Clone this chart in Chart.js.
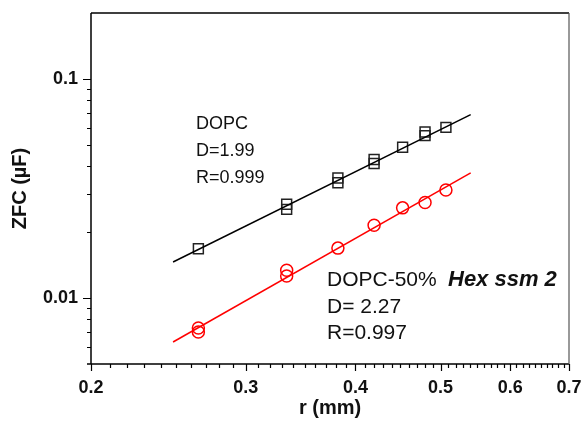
<!DOCTYPE html>
<html>
<head>
<meta charset="utf-8">
<script src="https://cdn.jsdelivr.net/npm/chart.js@4"></script>
<style>
  body { margin: 0; background: #fff; }
  canvas { display: block; }
</style>
</head>
<body>
<canvas id="zfc-chart" width="583" height="425"></canvas>
<script>
// Measured points, ZFC vs electrode radius
const dopcR = [0.265, 0.334, 0.334, 0.382, 0.382, 0.420, 0.420, 0.4526, 0.480, 0.480, 0.507];
const dopcZfc = [0.0168, 0.0268, 0.0254, 0.0353, 0.0336, 0.0429, 0.0411, 0.0488, 0.0573, 0.0551, 0.0601];
const hexR = [0.265, 0.265, 0.334, 0.334, 0.382, 0.420, 0.4526, 0.480, 0.507];
const hexZfc = [0.0073, 0.0070, 0.0134, 0.0126, 0.0169, 0.0215, 0.0258, 0.0273, 0.0311];

// Power-law fit lines (end points)
const fitR = [0.248, 0.541];
const dopcFit = [0.0146, 0.0687];
const hexFit = [0.0063, 0.0373];

// Axis ticks
const xMajor = [0.2, 0.3, 0.4, 0.5, 0.6, 0.7];
const xMinor = [0.21, 0.22, 0.23, 0.24, 0.25, 0.26, 0.27, 0.28, 0.29,
                0.31, 0.32, 0.33, 0.34, 0.35, 0.36, 0.37, 0.38, 0.39,
                0.41, 0.42, 0.43, 0.44, 0.45, 0.46, 0.47, 0.48, 0.49,
                0.51, 0.52, 0.53, 0.54, 0.55, 0.56, 0.57, 0.58, 0.59,
                0.61, 0.62, 0.63, 0.64, 0.65, 0.66, 0.67, 0.68, 0.69];
const yMajor = [0.01, 0.1];
const yMinor = [0.006, 0.007, 0.008, 0.009, 0.02, 0.03, 0.04, 0.05, 0.06, 0.07, 0.08, 0.09];

const FONT = "'Liberation Sans', Arial, sans-serif";
const TEXT = '#111';

function pts(xs, ys) {
    return xs.map((x, i) => ({ x: x, y: ys[i] }));
}

// Frame, outward tick marks and the two text blocks
const framePlugin = {
    id: 'frame',
    afterDraw(chart) {
        const { ctx, chartArea: a, scales: { x, y } } = chart;
        ctx.save();
        ctx.strokeStyle = '#000';
        ctx.lineWidth = 1.5;
        ctx.beginPath();
        ctx.moveTo(a.left, a.top);
        ctx.lineTo(a.left, a.bottom);
        ctx.moveTo(a.left - 4, a.bottom);
        ctx.lineTo(a.right, a.bottom);
        ctx.moveTo(a.left, a.top);
        ctx.lineTo(a.right, a.top);
        ctx.stroke();

        ctx.strokeStyle = '#555';
        ctx.lineWidth = 1.2;
        ctx.beginPath();
        ctx.moveTo(a.right, a.top);
        ctx.lineTo(a.right, a.bottom);
        ctx.stroke();

        ctx.strokeStyle = '#000';
        ctx.lineWidth = 1.2;
        ctx.beginPath();
        xMajor.forEach(v => {
            const px = Math.round(x.getPixelForValue(v)) + 0.5;
            ctx.moveTo(px, a.bottom);
            ctx.lineTo(px, a.bottom + 7);
        });
        xMinor.forEach(v => {
            const px = Math.round(x.getPixelForValue(v)) + 0.5;
            ctx.moveTo(px, a.bottom);
            ctx.lineTo(px, a.bottom + 4);
        });
        yMajor.forEach(v => {
            const py = Math.round(y.getPixelForValue(v)) + 0.5;
            ctx.moveTo(a.left, py);
            ctx.lineTo(a.left - 8, py);
        });
        yMinor.forEach(v => {
            const py = Math.round(y.getPixelForValue(v)) + 0.5;
            ctx.moveTo(a.left, py);
            ctx.lineTo(a.left - 4, py);
        });
        ctx.stroke();

        ctx.fillStyle = TEXT;
        ctx.textBaseline = 'middle';
        ctx.textAlign = 'left';
        ctx.font = '18px ' + FONT;
        ctx.fillText('DOPC', 196, 124);
        ctx.fillText('D=1.99', 196, 151);
        ctx.fillText('R=0.999', 196, 178);

        ctx.font = '21px ' + FONT;
        ctx.fillText('DOPC-50%', 327, 280);
        ctx.fillText('D= 2.27', 327, 307);
        ctx.fillText('R=0.997', 327, 333);
        ctx.font = 'italic bold 22px ' + FONT;
        ctx.fillText('Hex ssm 2', 448, 280);
        ctx.restore();
    }
};

new Chart(document.getElementById('zfc-chart'), {
    type: 'scatter',
    data: {
        datasets: [
            {
                label: 'DOPC fit',
                data: pts(fitR, dopcFit),
                showLine: true,
                borderColor: '#000',
                borderWidth: 1.5,
                pointRadius: 0
            },
            {
                label: 'DOPC-50% Hex fit',
                data: pts(fitR, hexFit),
                showLine: true,
                borderColor: '#ff0000',
                borderWidth: 1.5,
                pointRadius: 0
            },
            {
                label: 'DOPC',
                data: pts(dopcR, dopcZfc),
                pointStyle: 'rect',
                pointRadius: 7,
                borderColor: '#222',
                backgroundColor: 'transparent',
                borderWidth: 1.5
            },
            {
                label: 'DOPC-50% Hex ssm 2',
                data: pts(hexR, hexZfc),
                pointStyle: 'circle',
                pointRadius: 6,
                borderColor: '#ff0000',
                backgroundColor: 'transparent',
                borderWidth: 1.5
            }
        ]
    },
    options: {
        responsive: false,
        animation: false,
        devicePixelRatio: 1,
        layout: { padding: { top: 13, right: 14, left: 0, bottom: 0 } },
        plugins: {
            legend: { display: false },
            tooltip: { enabled: false }
        },
        scales: {
            x: {
                type: 'logarithmic',
                min: 0.2,
                max: 0.7,
                grid: { display: false, drawTicks: false },
                border: { display: false },
                afterBuildTicks: scale => {
                    scale.ticks = xMajor.map(v => ({ value: v, major: true }));
                },
                afterFit: scale => {
                    scale.height = 61;
                    scale.paddingLeft = 0;
                    scale.paddingRight = 0;
                },
                ticks: {
                    autoSkip: false,
                    maxRotation: 0,
                    padding: 13,
                    color: TEXT,
                    font: { family: FONT, size: 18, weight: 'bold' },
                    callback: v => String(v)
                },
                title: {
                    display: true,
                    text: 'r (mm)',
                    color: TEXT,
                    font: { family: FONT, size: 20, weight: 'bold' },
                    padding: { top: 0, bottom: 5 }
                }
            },
            y: {
                type: 'logarithmic',
                min: 0.005,
                max: 0.2,
                grid: { display: false, drawTicks: false },
                border: { display: false },
                afterBuildTicks: scale => {
                    scale.ticks = yMajor.map(v => ({ value: v, major: true }));
                },
                afterFit: scale => {
                    scale.width = 91;
                    scale.paddingTop = 0;
                    scale.paddingBottom = 0;
                },
                ticks: {
                    autoSkip: false,
                    padding: 13,
                    color: TEXT,
                    font: { family: FONT, size: 18, weight: 'bold' },
                    callback: v => String(v)
                },
                title: {
                    display: true,
                    text: 'ZFC (µF)',
                    color: TEXT,
                    font: { family: FONT, size: 20, weight: 'bold' },
                    padding: { top: 8, bottom: 0 }
                }
            }
        }
    },
    plugins: [framePlugin]
});
</script>
</body>
</html>
